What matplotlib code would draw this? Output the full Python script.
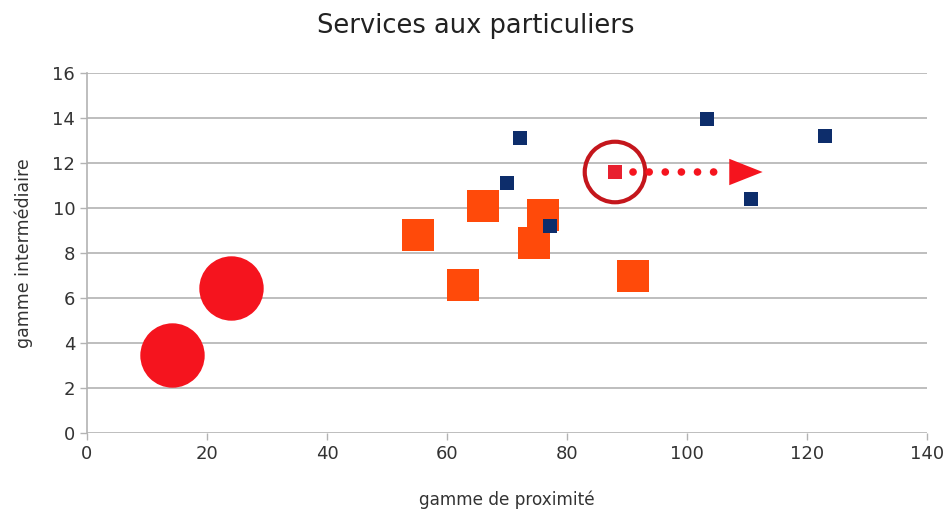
import matplotlib
matplotlib.use("Agg")
import matplotlib.pyplot as plt

# Data
blue_x = [72.2, 70.0, 77.2, 103.3, 123.0, 110.7]
blue_y = [13.1, 11.1, 9.2, 13.95, 13.2, 10.4]
orange_x = [55.2, 66.0, 76.0, 74.5, 62.7, 91.0]
orange_y = [8.8, 10.1, 9.7, 8.45, 6.6, 7.0]
circle_x = [24.0, 14.2]
circle_y = [6.45, 3.45]
highlight_x = [88.0]
highlight_y = [11.6]
arrow_start_x = 91.0
arrow_end_x = 112.6

x_ticks = [0, 20, 40, 60, 80, 100, 120, 140]
y_ticks = [0, 2, 4, 6, 8, 10, 12, 14, 16]

plt.rcParams['font.family'] = ['DejaVu Sans']

fig = plt.figure(figsize=(9.51, 5.14), dpi=100)
ax = fig.add_axes([87/951, 1-433/514, 840/951, 360/514])

ax.set_xlim(0, 140)
ax.set_ylim(0, 16)
ax.set_xticks(x_ticks)
ax.set_yticks(y_ticks)
ax.yaxis.grid(True, color='#b3b3b3', linewidth=1.2)
ax.set_axisbelow(True)
for s in ['top', 'right', 'bottom']:
    ax.spines[s].set_visible(False)
ax.spines['left'].set_color('#b3b3b3')
ax.spines['left'].set_linewidth(1.2)
ax.tick_params(axis='both', colors='#b3b3b3', length=5, width=1, labelsize=13, labelcolor='#333333')

ax.scatter(circle_x, circle_y, s=2150, marker='o', color='#f5141e', zorder=3, linewidths=0)
ax.scatter(orange_x, orange_y, s=560, marker='s', color='#ff4a0a', zorder=3, linewidths=0)
ax.scatter(blue_x, blue_y, s=110, marker='s', color='#0d2d6b', zorder=4, linewidths=0)
ax.scatter(highlight_x, highlight_y, s=110, marker='s', color='#e8202f', zorder=4, linewidths=0)

# annotation circle
ax.scatter(highlight_x, highlight_y, s=1900, marker='o', facecolors='none', edgecolors='#c4161c', linewidths=3, zorder=5)
# dotted arrow
ax.plot([arrow_start_x, arrow_end_x - 6.5], [highlight_y[0]] * 2, color='#f5141e', linewidth=5.5,
        linestyle=(0, (0.01, 2.1)), dash_capstyle='round', zorder=5, clip_on=False)
ax.annotate('', xy=(arrow_end_x, highlight_y[0]), xytext=(arrow_end_x - 6.5, highlight_y[0]),
            arrowprops=dict(arrowstyle='-|>,head_length=2.4,head_width=0.95', color='#f5141e', lw=0,
                            shrinkA=0, shrinkB=0), zorder=5)

fig.suptitle('Services aux particuliers', fontsize=18.5, color='#222222', x=0.5, y=0.975, va='top')
ax.set_xlabel('gamme de proximité', fontsize=12.2, color='#333333', labelpad=20)
ax.set_ylabel('gamme intermédiaire', fontsize=12.5, color='#333333', labelpad=14)

fig.savefig('out.png', dpi=100)
